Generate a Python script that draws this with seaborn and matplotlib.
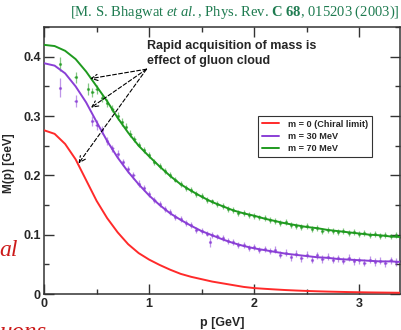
import numpy as np
import pandas as pd
import matplotlib
matplotlib.use('Agg')
import matplotlib.pyplot as plt
import seaborn as sns

# =============================================================================
# curves (M(p) in GeV)
# =============================================================================
p_grid = [0.0, 0.1, 0.2, 0.3, 0.4, 0.5, 0.6, 0.7, 0.8, 0.9, 1.0, 1.1, 1.2, 1.3, 1.4, 1.5, 1.6,
          1.7, 1.8, 1.9, 2.0, 2.1, 2.2, 2.3, 2.4, 2.5, 2.6, 2.7, 2.8, 2.9, 3.0, 3.1, 3.2, 3.3, 3.4]

m_chiral = [0.276, 0.270, 0.253, 0.227, 0.192, 0.157, 0.128, 0.104, 0.084, 0.069, 0.058, 0.049,
            0.041, 0.034, 0.029, 0.025, 0.021, 0.018, 0.015, 0.012, 0.010, 0.0088, 0.0077, 0.0067,
            0.0059, 0.0052, 0.0046, 0.0041, 0.0037, 0.0033, 0.0030, 0.0027, 0.0025, 0.0023, 0.0021]

m_30 = [0.389, 0.385, 0.372, 0.350, 0.323, 0.290, 0.258, 0.230, 0.206, 0.185, 0.166, 0.150,
        0.136, 0.125, 0.115, 0.106, 0.099, 0.092, 0.086, 0.081, 0.077, 0.074, 0.071, 0.068,
        0.066, 0.064, 0.062, 0.061, 0.059, 0.058, 0.057, 0.056, 0.055, 0.055, 0.054]

m_70 = [0.420, 0.418, 0.410, 0.396, 0.375, 0.350, 0.325, 0.297, 0.272, 0.250, 0.232, 0.215,
        0.199, 0.185, 0.174, 0.164, 0.155, 0.148, 0.141, 0.136, 0.132, 0.127, 0.123, 0.119,
        0.116, 0.113, 0.111, 0.108, 0.106, 0.104, 0.102, 0.100, 0.099, 0.097, 0.096]

labels = ['m = 0 (Chiral limit)', 'm = 30 MeV', 'm = 70 MeV']
colors = ['#ff2a2a', '#8a3fd6', '#1f9a1f']

# lattice points (p, M, error)
lat30_p = [0.15, 0.30, 0.46, 0.50, 0.55, 0.60, 0.65, 0.70, 0.75, 0.80, 0.85, 0.90, 0.95, 1.00,
           1.05, 1.10, 1.15, 1.20, 1.25, 1.30, 1.35, 1.40, 1.45, 1.50, 1.55, 1.58, 1.60, 1.65,
           1.70, 1.75, 1.80, 1.85, 1.90, 1.95, 2.00, 2.05, 2.10, 2.15, 2.20, 2.25, 2.30, 2.35,
           2.40, 2.45, 2.50, 2.55, 2.60, 2.65, 2.70, 2.75, 2.80, 2.85, 2.90, 2.95, 3.00, 3.05,
           3.10, 3.15, 3.20, 3.25, 3.30, 3.35, 3.40]
lat30_m = [0.348, 0.326, 0.292, 0.285, 0.276, 0.258, 0.246, 0.236, 0.222, 0.210, 0.200, 0.186,
           0.178, 0.168, 0.158, 0.151, 0.143, 0.138, 0.130, 0.126, 0.119, 0.117, 0.108, 0.107,
           0.102, 0.088, 0.100, 0.097, 0.094, 0.089, 0.088, 0.083, 0.083, 0.078, 0.079, 0.075,
           0.076, 0.072, 0.075, 0.066, 0.070, 0.062, 0.068, 0.060, 0.066, 0.058, 0.065, 0.059,
           0.063, 0.058, 0.060, 0.056, 0.061, 0.055, 0.057, 0.053, 0.058, 0.054, 0.056, 0.052,
           0.057, 0.054, 0.055]
lat30_e = [0.016, 0.010, 0.008, 0.008, 0.007, 0.007, 0.006, 0.006, 0.006, 0.006, 0.006, 0.006,
           0.005, 0.005, 0.005, 0.005, 0.005, 0.005, 0.005, 0.005, 0.005, 0.005, 0.005, 0.005,
           0.005, 0.008, 0.005, 0.005, 0.005, 0.005, 0.005, 0.005, 0.005, 0.005, 0.005, 0.005,
           0.005, 0.005, 0.006, 0.006, 0.006, 0.006, 0.006, 0.006, 0.006, 0.006, 0.006, 0.006,
           0.006, 0.006, 0.006, 0.006, 0.006, 0.006, 0.006, 0.006, 0.006, 0.006, 0.006, 0.006,
           0.006, 0.006, 0.006]

lat70_p = [0.15, 0.30, 0.42, 0.46, 0.50, 0.55, 0.60, 0.65, 0.70, 0.74, 0.78, 0.82, 0.86, 0.90,
           0.95, 1.00, 1.05, 1.10, 1.15, 1.20, 1.25, 1.30, 1.35, 1.40, 1.45, 1.50, 1.55, 1.60,
           1.65, 1.70, 1.75, 1.80, 1.85, 1.90, 1.95, 2.00, 2.05, 2.10, 2.15, 2.20, 2.25, 2.30,
           2.35, 2.40, 2.45, 2.50, 2.55, 2.60, 2.65, 2.70, 2.75, 2.80, 2.85, 2.90, 2.95, 3.00,
           3.05, 3.10, 3.15, 3.20, 3.25, 3.30, 3.35, 3.40]
lat70_m = [0.388, 0.365, 0.346, 0.340, 0.345, 0.330, 0.322, 0.312, 0.300, 0.290, 0.282, 0.270,
           0.262, 0.252, 0.243, 0.234, 0.222, 0.216, 0.207, 0.200, 0.193, 0.186, 0.178, 0.175,
           0.168, 0.165, 0.158, 0.156, 0.151, 0.149, 0.143, 0.142, 0.137, 0.137, 0.133, 0.131,
           0.129, 0.128, 0.124, 0.123, 0.119, 0.121, 0.116, 0.115, 0.113, 0.114, 0.110, 0.112,
           0.107, 0.108, 0.106, 0.104, 0.106, 0.103, 0.104, 0.101, 0.103, 0.100, 0.101, 0.098,
           0.100, 0.097, 0.099, 0.096]
lat70_e = [0.012, 0.010, 0.010, 0.008, 0.008, 0.007, 0.007, 0.006, 0.006, 0.006, 0.006, 0.006,
           0.005, 0.005, 0.005, 0.005, 0.005, 0.005, 0.005, 0.005, 0.005, 0.005, 0.005, 0.005,
           0.005, 0.005, 0.005, 0.005, 0.005, 0.005, 0.005, 0.005, 0.005, 0.005, 0.005, 0.005,
           0.005, 0.005, 0.005, 0.005, 0.005, 0.005, 0.005, 0.005, 0.005, 0.005, 0.005, 0.005,
           0.005, 0.005, 0.005, 0.005, 0.005, 0.005, 0.005, 0.005, 0.005, 0.005, 0.005, 0.005,
           0.005, 0.005, 0.005, 0.005]

# arrow start and end points (data coordinates)
arrow_from = (0.975, 0.379)
arrow_to = [(0.438, 0.363), (0.445, 0.314), (0.327, 0.220)]

# =============================================================================
# styling
# =============================================================================
sns.set_style('ticks')
plt.rcParams['font.family'] = ['Liberation Sans', 'DejaVu Sans']
plt.rcParams['mathtext.fontset'] = 'custom'
plt.rcParams['mathtext.rm'] = 'Liberation Serif'
plt.rcParams['mathtext.it'] = 'Liberation Serif:italic'
plt.rcParams['mathtext.bf'] = 'Liberation Serif:bold'

curves = pd.DataFrame({
    'p': p_grid * 3,
    'M': m_chiral + m_30 + m_70,
    'series': [labels[0]] * len(p_grid) + [labels[1]] * len(p_grid) + [labels[2]] * len(p_grid),
})

fig = plt.figure(figsize=(4.01, 3.30), dpi=100)
ax = fig.add_axes([0.11, 0.109, 0.888, 0.809])

# lattice data
for px, mv, er, col in [(lat30_p, lat30_m, lat30_e, colors[1]), (lat70_p, lat70_m, lat70_e, colors[2])]:
    ax.errorbar(px, mv, yerr=er, xerr=0.012, fmt='o', ms=1.3, color=col, ecolor=col,
                elinewidth=0.9, alpha=0.55, capsize=0, zorder=2)

sns.lineplot(data=curves, x='p', y='M', hue='series', palette=colors, linewidth=1.4,
             ax=ax, zorder=3)

ax.set_xlim(0, 3.39)
ax.set_ylim(0, 0.45)
ax.set_xticks([0, 1, 2, 3])
ax.set_xticks([0.5, 1.5, 2.5], minor=True)
ax.set_yticks([0, 0.1, 0.2, 0.3, 0.4])
ax.set_yticks([0.05, 0.15, 0.25, 0.35, 0.45], minor=True)
ax.set_yticklabels(['0', '0.1', '0.2', '0.3', '0.4'])
ax.tick_params(which='both', direction='in', top=True, right=True, width=1.0, color='#333333')
ax.tick_params(which='major', length=7, labelsize=9, pad=2.5)
ax.tick_params(which='minor', length=3.6)
for lab in ax.get_xticklabels() + ax.get_yticklabels():
    lab.set_fontweight('bold')
for sp in ax.spines.values():
    sp.set_color('#333333')
    sp.set_linewidth(1.1)

ax.set_xlabel('p [GeV]', fontsize=9, fontweight='bold')
ax.set_ylabel('M(p) [GeV]', fontsize=8.5, fontweight='bold')
ax.xaxis.set_label_coords(0.5, -0.085)
ax.yaxis.set_label_coords(-0.083, 0.49)

leg = ax.legend(loc='upper left', bbox_to_anchor=(0.601, 0.667), borderaxespad=0,
                prop={'weight': 'bold', 'size': 6.6}, frameon=True, fancybox=False,
                handlelength=1.9, handletextpad=1.0, labelspacing=0.35, borderpad=0.4)
leg.get_frame().set_edgecolor('black')
leg.get_frame().set_linewidth(0.8)
for ln in leg.get_lines():
    ln.set_linewidth(1.4)

# annotation and arrows
ax.text(0.289, 0.95, 'Rapid acquisition of mass is\neffect of gluon cloud', transform=ax.transAxes,
        ha='left', va='top', fontsize=9, fontweight='bold', linespacing=1.3)
for tgt in arrow_to:
    ax.annotate('', xy=tgt, xytext=arrow_from,
                arrowprops=dict(arrowstyle='->,head_length=0.45,head_width=0.22', linestyle=(0, (3.5, 2)),
                                lw=0.8, color='black', shrinkA=0, shrinkB=0), zorder=4)

# header and cut-off slide text
fig.text(0.998, 0.962, r'[M. S. Bhagwat $\mathit{et\ al.}$, Phys. Rev. $\mathbf{C\ 68}$, 015203 (2003)]',
         ha='right', va='center', fontsize=10.5, color='#1e7b50', family='Liberation Serif')
fig.text(-0.003, 0.225, 'al', ha='left', va='baseline', fontsize=17, style='italic',
         color='#cc1a1a', family='Liberation Serif')
fig.text(0.0, -0.027, 'uons', ha='left', va='baseline', fontsize=18, style='italic',
         color='#cc1a1a', family='Liberation Serif')

plt.savefig('out.png', dpi=100)
